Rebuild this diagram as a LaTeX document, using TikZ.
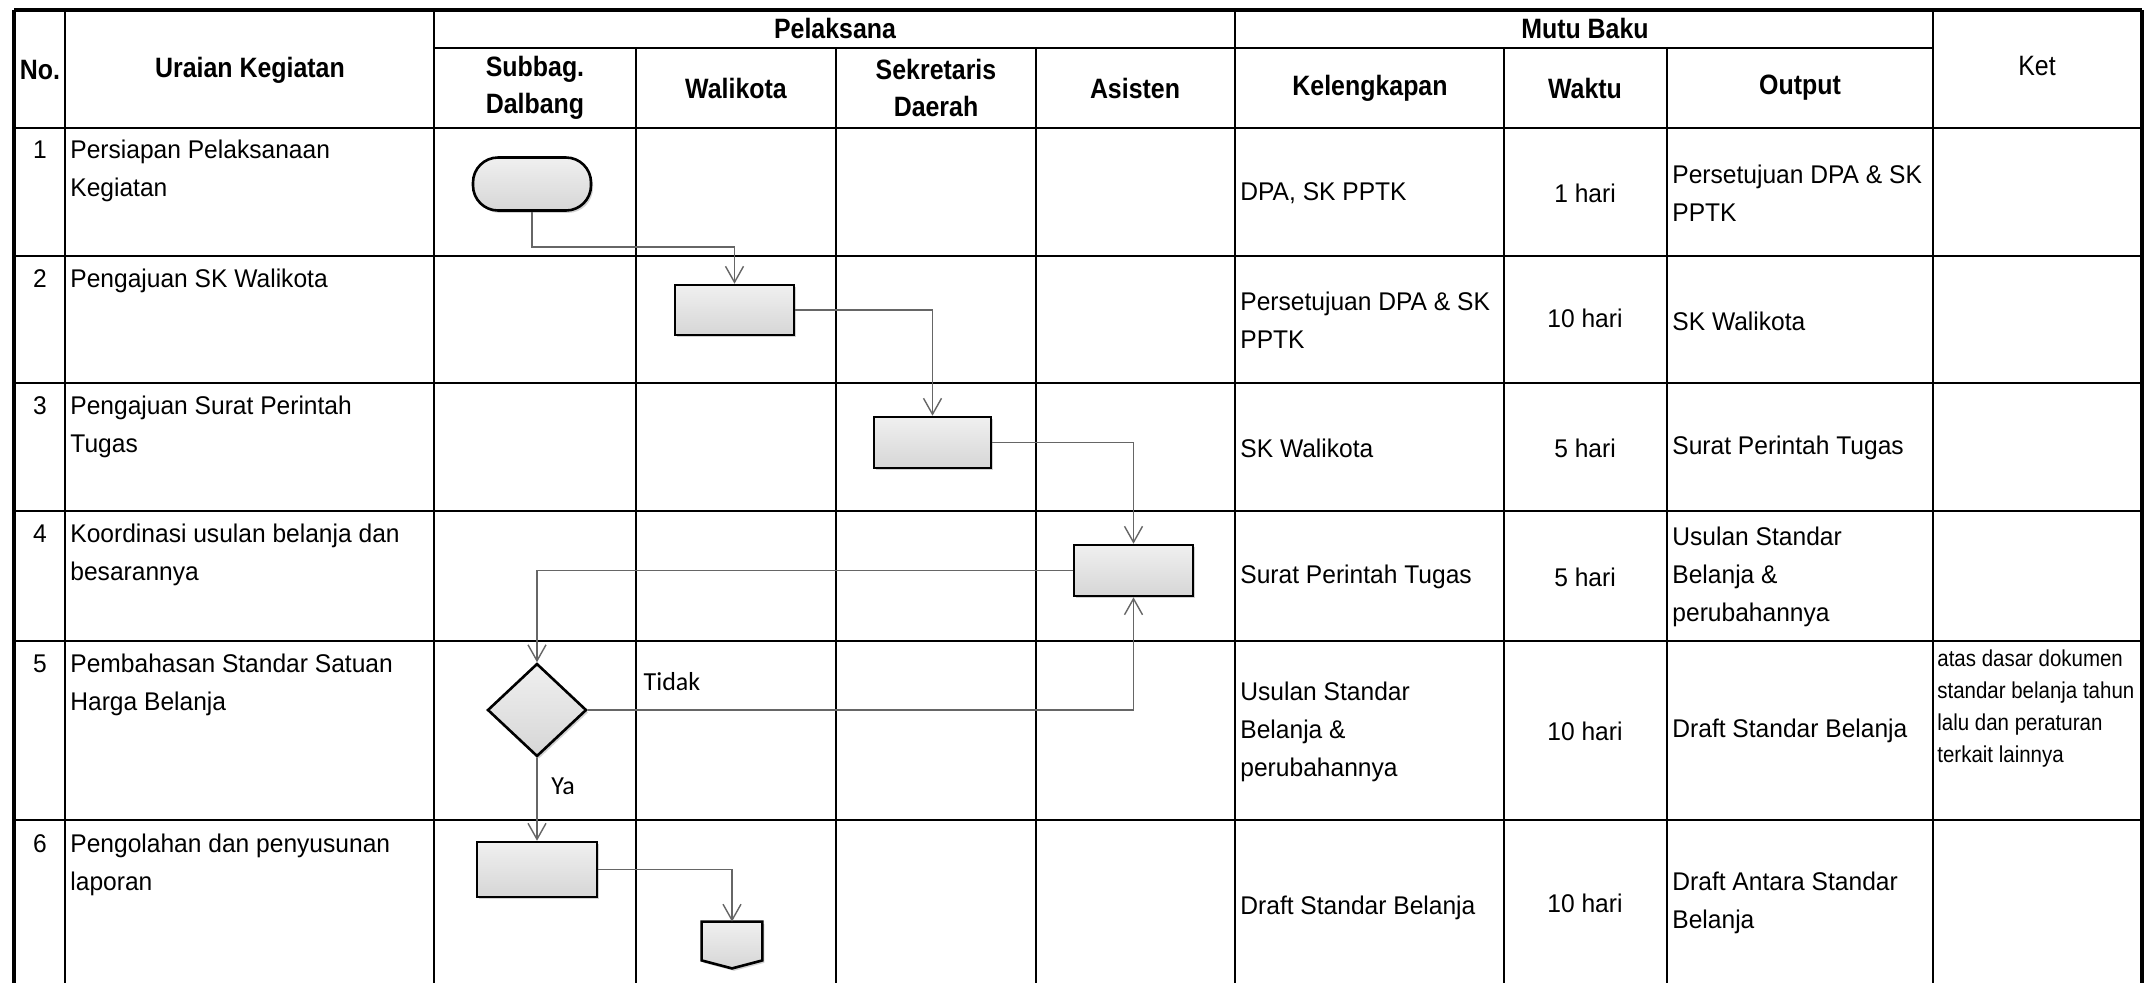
\documentclass[tikz,border=0pt]{standalone}
\usepackage{fontspec}
\setmainfont{Liberation Sans}[FakeStretch=0.96]
\newfontfamily\hdrfont{Liberation Sans}[FakeStretch=0.89]
\newfontfamily\calfont{Carlito}
\usetikzlibrary{arrows.meta,shadows,shapes.geometric}
\begin{document}
\begin{tikzpicture}[x=0.5pt,y=-0.5pt,
  tline/.style={line width=1.3pt},
  outer/.style={line width=1.8pt},
  hdr/.style={font=\hdrfont\fontsize{14pt}{18.5pt}\selectfont\bfseries, align=center, inner sep=0pt},
  hdrn/.style={font=\hdrfont\fontsize{14pt}{18.5pt}\selectfont, inner sep=0pt},
  body/.style={font=\fontsize{12.8pt}{19pt}\selectfont, align=left, inner sep=0pt},
  num/.style={font=\fontsize{12.8pt}{19pt}\selectfont, inner sep=0pt, anchor=north},
  ket/.style={font=\hdrfont\fontsize{11.5pt}{16pt}\selectfont, align=left, inner sep=0pt, anchor=north west},
  proc/.style={draw=black, line width=1.3pt, top color=gray!12, bottom color=gray!32,
    drop shadow={shadow xshift=1pt, shadow yshift=-1.2pt, opacity=0.35}, inner sep=0pt},
  conn/.style={draw=black!60, line width=0.7pt, -{Straight Barb[length=8pt,width=9pt]}},
  lbl/.style={font=\calfont\fontsize{13pt}{15pt}\selectfont, inner sep=0pt}
]
\fill[white] (0,0) rectangle (2152,982);
\useasboundingbox (0,0) rectangle (2152,982);

% ---------- table lines ----------
\draw[outer] (14,10) -- (2142,10);
\draw[outer] (14,10) -- (14,990);
\draw[outer] (2142,10) -- (2142,990);
\draw[tline] (434,48) -- (1933,48);
\foreach \yy in {128,256,383,511,641,820} \draw[tline] (14,\yy) -- (2142,\yy);
\foreach \xx in {65,434,1235,1933} \draw[tline] (\xx,10) -- (\xx,990);
\foreach \xx in {636,836,1036,1504,1667} \draw[tline] (\xx,48) -- (\xx,990);

% ---------- headers ----------
\node[hdr] (hno) at (40,70) {No.};
\node[hdr] (hur) at (250,70) {Uraian Kegiatan};
\node[hdr] (hpel) at (835,28) {Pelaksana};
\node[hdr] (hmb) at (1585,28) {Mutu Baku};
\node[hdrn] (hket) at (2037,66) {Ket};
\node[hdr] (hsub) at (535,88) {Subbag.\\Dalbang};
\node[hdr] (hwk) at (736,88) {Walikota};
\node[hdr] (hsek) at (936,88) {Sekretaris\\Daerah};
\node[hdr] (has) at (1135,88) {Asisten};
\node[hdr] (hkel) at (1370,88) {Kelengkapan};
\node[hdr] (hwak) at (1585,88) {Waktu};
\node[hdr] (hout) at (1800,88) {Output};

% ---------- numbers and activities ----------
\node[num] (n1) at (40,140) {1};
\node[num] (n2) at (40,269) {2};
\node[num] (n3) at (40,396) {3};
\node[num] (n4) at (40,524) {4};
\node[num] (n5) at (40,654) {5};
\node[num] (n6) at (40,834) {6};
\node[body, anchor=north west] (u1) at (70,140) {Persiapan Pelaksanaan\\Kegiatan};
\node[body, anchor=north west] (u2) at (70,269) {Pengajuan SK Walikota};
\node[body, anchor=north west] (u3) at (70,396) {Pengajuan Surat Perintah\\Tugas};
\node[body, anchor=north west] (u4) at (70,524) {Koordinasi usulan belanja dan\\besarannya};
\node[body, anchor=north west] (u5) at (70,654) {Pembahasan Standar Satuan\\Harga Belanja};
\node[body, anchor=north west] (u6) at (70,834) {Pengolahan dan penyusunan\\laporan};

% ---------- Kelengkapan ----------
\node[body, anchor=west] (k1) at (1240,193) {DPA, SK PPTK};
\node[body, anchor=west] (k2) at (1240,320) {Persetujuan DPA \& SK\\PPTK};
\node[body, anchor=west] (k3) at (1240,448) {SK Walikota};
\node[body, anchor=west] (k4) at (1240,577) {Surat Perintah Tugas};
\node[body, anchor=west] (k5) at (1240,732) {Usulan Standar\\Belanja \&\\perubahannya};
\node[body, anchor=west] (k6) at (1240,908) {Draft Standar Belanja};

% ---------- Waktu ----------
\node[body] (w1) at (1585,193) {1 hari};
\node[body] (w2) at (1585,318) {10 hari};
\node[body] (w3) at (1585,448) {5 hari};
\node[body] (w4) at (1585,577) {5 hari};
\node[body] (w5) at (1585,731) {10 hari};
\node[body] (w6) at (1585,903) {10 hari};

% ---------- Output ----------
\node[body, anchor=west] (o1) at (1672,193) {Persetujuan DPA \& SK\\PPTK};
\node[body, anchor=west] (o2) at (1672,321) {SK Walikota};
\node[body, anchor=west] (o3) at (1672,448) {Surat Perintah Tugas};
\node[body, anchor=west] (o4) at (1672,577) {Usulan Standar\\Belanja \&\\perubahannya};
\node[body, anchor=west] (o5) at (1672,731) {Draft Standar Belanja};
\node[body, anchor=west] (o6) at (1672,903) {Draft Antara Standar\\Belanja};

% ---------- Ket ----------
\node[ket] (ket5) at (1937,649) {atas dasar dokumen\\standar belanja tahun\\lalu dan peraturan\\terkait lainnya};

% ---------- flowchart shapes ----------
\node[proc, rounded corners=12.5pt, minimum width=59pt, minimum height=26.5pt] (st) at (532,184) {};
\node[proc, minimum width=59.5pt, minimum height=25pt] (wk) at (734.5,310) {};
\node[proc, minimum width=58.5pt, minimum height=25.5pt] (sk) at (932.5,442.5) {};
\node[proc, minimum width=59.5pt, minimum height=25.5pt] (as) at (1133.5,570.5) {};
\node[proc, diamond, minimum width=49.5pt, minimum height=46.5pt] (dec) at (537,710) {};
\node[proc, minimum width=60pt, minimum height=27.5pt] (b6) at (537,869.5) {};
\node[minimum width=30pt, minimum height=23pt, inner sep=0pt] (off) at (732,945) {};
\path[proc] (off.north west) -- (off.north east) -- ([yshift=4pt]off.south east)
  -- (off.south) -- ([yshift=4pt]off.south west) -- cycle;

% ---------- connectors ----------
\draw[conn] (st) -- (st |- 0,247) -| (wk);
\draw[conn] (wk) -| (sk);
\draw[conn] (sk) -| (as);
\draw[conn] (as) -| (dec);
\draw[conn] (dec) -| (as);
\draw[conn] (dec) -- (b6);
\draw[conn] (b6) -| (off);

\node[lbl] (tidak) at (672,682) {Tidak};
\node[lbl] (ya) at (563,786) {Ya};
\end{tikzpicture}
\end{document}
